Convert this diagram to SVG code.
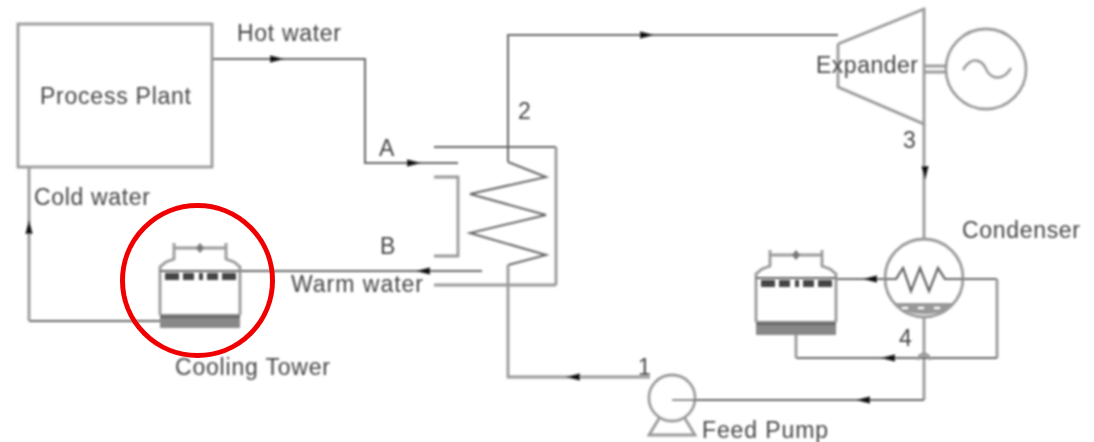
<svg xmlns="http://www.w3.org/2000/svg" width="1094" height="442" viewBox="0 0 1094 442">
<style>
.l{fill:none;stroke:#666;stroke-width:2}
.t{fill:none;stroke:#999;stroke-width:2.800}
.f{fill:#fff;stroke:#999;stroke-width:2.800}
text{font-family:"Liberation Sans",Arial,sans-serif;font-size:23px;fill:#444}
.dk{fill:#444;stroke:none}
.ar{fill:#111;stroke:none}
</style>
<defs>
<filter id="b" x="-5%" y="-5%" width="110%" height="110%"><feGaussianBlur stdDeviation="0.8"/></filter>
<path id="al" d="M-9 0L5 -3.500V3.500Z"/>
<path id="ar" d="M9 0L-5 -3.500V3.500Z"/>
<g id="tower">
<path class="t" d="M0 45V24L6 19L14 16V0M14 5H66M66 0V16L74 19L80 24V45"/>
<path class="t" d="M0 45V72M80 45V72"/>
<path class="l" d="M0 28H80"/>
<path class="dk" d="M5 30h14v7h-14zM23 30h11v7h-11zM39 30h4v7h-4zM47 30h11v7h-11zM62 30h14v7h-14z"/>
<path d="M0 71H80V85H0Z" fill="#888"/>
<path d="M0 74H80" stroke="#555" stroke-width="1.500"/>
<path d="M36 5L40 0L44 5L40 10Z" fill="#777"/>
</g>
</defs>
<rect width="1094" height="442" fill="#fff"/>
<g filter="url(#b)">
<g id="connectors">
<path class="l" d="M212 59H365V163H458"/>
<path class="l" d="M508 162V35H838"/>
<path class="l" d="M508 162L546 177L470 194L546 215L470 233L546 255L508 265"/>
<path class="t" d="M508 265V377H650"/>
<path class="t" d="M924 124V240M924 318V400"/>
<path class="l" d="M924 400H672"/>
<path class="l" d="M836 279H896L903 268L911 291L920 268L929 291L938 268L945 279H997"/>
<path class="t" d="M997 279V358"/>
<path class="l" d="M997 358H796"/>
<path class="t" d="M796 358V335"/>
<path class="l" d="M238 271H482"/>
<path class="l" d="M160 321H29"/>
<path class="t" d="M29 321V167"/>
<path class="l" d="M434 147H556"/>
<path class="t" d="M556 147V285"/>
<path class="t" d="M434 285H556M434 177H458V256H434"/>
<use href="#ar" x="275" y="59" class="ar"/>
<use href="#ar" x="412" y="163" class="ar"/>
<use href="#al" x="425" y="271" class="ar"/>
<use href="#ar" x="645" y="35" class="ar"/>
<use href="#al" x="575" y="377" class="ar"/>
<use href="#al" x="872" y="279" class="ar"/>
<use href="#al" x="890" y="358" class="ar"/>
<use href="#al" x="865" y="400" class="ar"/>
<path class="ar" d="M925 180L921.500 166H928.500Z"/>
<path class="ar" d="M29 220L25.500 234H32.500Z"/>
</g>
<g id="process-plant">
<rect x="18" y="24" width="194" height="143" fill="#fff" class="t"/>
<text x="40" y="104" textLength="151">Process Plant</text>
</g>
<g id="cooling-tower-1">
<use href="#tower" x="160" y="243"/>
<text x="175" y="375" textLength="155">Cooling Tower</text>
</g>
<g id="cooling-tower-2">
<use href="#tower" x="756" y="250"/>
</g>
<g id="expander">
<path class="t" d="M838 44V87L924 124V9L838 44"/>
<text x="816" y="73" textLength="102">Expander</text>
</g>
<g id="generator">
<path class="t" d="M924 66H948M924 72H948"/>
<circle class="f" cx="986" cy="69" r="40"/>
<path class="t" d="M963 70C972 55 982 60 986 69S1002 83 1011 68"/>
</g>
<g id="condenser">
<circle class="t" cx="924" cy="278" r="39"/>
<path class="l" d="M885 279H896L903 268L911 291L920 268L929 291L938 268L945 279H963"/>
<path d="M893 303H955C945 318 905 318 893 303Z" fill="#999"/>
<path d="M902 308h6M918 308h6M934 308h6" stroke="#fff" stroke-width="2"/>
<path class="t" d="M918 360A6 6 0 0 1 930 360"/>
<text x="962" y="238" textLength="118">Condenser</text>
</g>
<g id="feed-pump">
<circle class="f" cx="672" cy="398" r="23"/>
<path class="l" d="M672 400H695"/>
<path class="t" d="M660 417L649 435H695L684 417"/>
<text x="702" y="438" textLength="126">Feed Pump</text>
</g>
<g id="labels">
<text x="237" y="41" textLength="104">Hot water</text>
<text x="34" y="205" textLength="116">Cold water</text>
<text x="291" y="292" textLength="132">Warm water</text>
<text x="379" y="156" textLength="18">A</text>
<text x="380" y="254" textLength="16">B</text>
<text x="518" y="119" textLength="15">2</text>
<text x="903" y="148" textLength="13">3</text>
<text x="899" y="346" textLength="14">4</text>
<text x="638" y="375" textLength="11">1</text>
</g>
</g>
<ellipse id="highlight" cx="197.500" cy="280.500" rx="75" ry="75" fill="none" stroke="#f00000" stroke-width="5"/>
</svg>
